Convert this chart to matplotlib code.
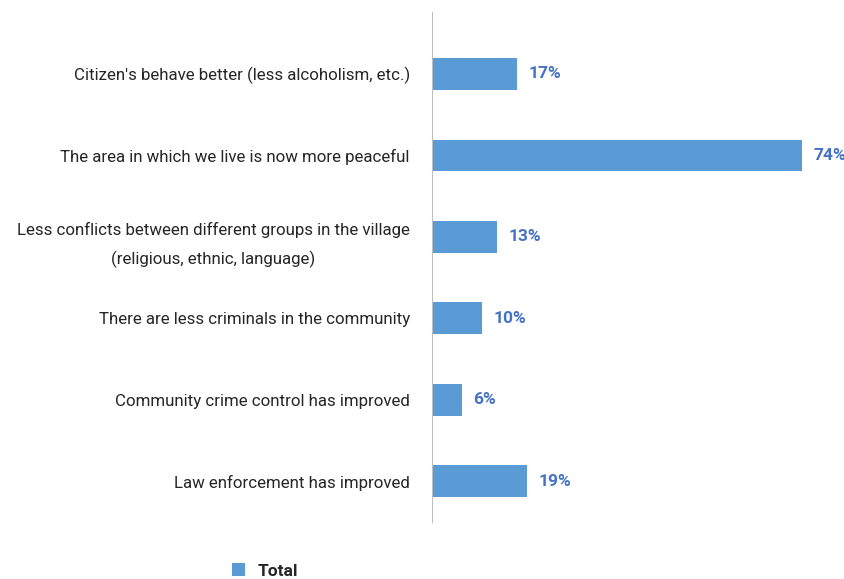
import matplotlib.pyplot as plt

reasons = [
    "Citizen's behave better (less alcoholism, etc.)",
    "The area in which we live is now more peaceful",
    "Less conflicts between different groups in the village\n(religious, ethnic, language)",
    "There are less criminals in the community",
    "Community crime control has improved",
    "Law enforcement has improved",
]
shares = [17, 74, 13, 10, 6, 19]
series_name = "Total"

plt.rcParams["font.family"] = ["Roboto", "DejaVu Sans"]

fig = plt.figure(figsize=(8.45, 5.79), dpi=100)
ax = fig.add_axes([432 / 845, 1 - 522 / 579, 1 - 432 / 845, 510 / 579])

pos = list(range(len(reasons)))
bars = ax.barh(pos, shares, height=0.39, color="#5B9BD5", label=series_name)
for y, v in zip(pos, shares):
    ax.text(v + 2.3, y, f"{v}%", va="center", ha="left", fontsize=12.5,
            fontweight="bold", color="#4472C4")

ax.set_yticks(pos)
ax.set_yticklabels(reasons, fontsize=12.2, color="#262626", linespacing=1.9)
for lbl in ax.get_yticklabels():
    lbl.set_multialignment("center")
ax.tick_params(axis="y", length=0, pad=16)
ax.set_ylim(5.5, -0.76)
ax.set_xlim(0, (845 - 432) / 5)
ax.set_xticks([])
for s in ["top", "right", "bottom"]:
    ax.spines[s].set_visible(False)
ax.spines["left"].set_color("#BFBFBF")

fig.legend(handles=[bars], labels=[series_name], loc="center",
           bbox_to_anchor=(265 / 845, 1 - 571 / 579), frameon=False,
           prop={"size": 12.5, "weight": "bold"}, labelcolor="#262626",
           handlelength=0.75, handleheight=0.75, handletextpad=0.7)

fig.savefig("out.png", dpi=100)
